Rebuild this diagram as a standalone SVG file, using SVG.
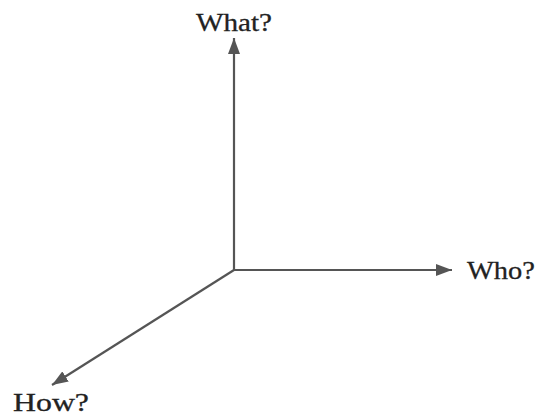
<svg xmlns="http://www.w3.org/2000/svg" width="537" height="416" viewBox="0 0 537 416">
  <style>
    .lbl { font-family: "Liberation Serif", "Times New Roman", serif; font-size: 26px; fill: #222; stroke: #222; stroke-width: 0.3; }
    .axis { stroke: #555; stroke-width: 2.2; fill: none; }
  </style>
  <defs>
    <marker id="arrow" viewBox="0 0 16 12" refX="16" refY="6" markerWidth="16" markerHeight="12" markerUnits="userSpaceOnUse" orient="auto">
      <path d="M0,0 L16,6 L0,12 Z" fill="#555"/>
    </marker>
  </defs>
  <rect width="537" height="416" fill="#fff"/>
  <g id="connectors">
    <line class="axis" x1="234" y1="271" x2="234" y2="38" marker-end="url(#arrow)"/>
    <line class="axis" x1="233" y1="270" x2="452" y2="270" marker-end="url(#arrow)"/>
    <line class="axis" x1="234" y1="270" x2="52" y2="385" marker-end="url(#arrow)"/>
  </g>
  <g id="what">
    <text class="lbl" x="196" y="31" textLength="76" lengthAdjust="spacingAndGlyphs">What?</text>
  </g>
  <g id="who">
    <text class="lbl" x="467" y="279" textLength="68" lengthAdjust="spacingAndGlyphs">Who?</text>
  </g>
  <g id="how">
    <text class="lbl" x="13" y="411" textLength="76" lengthAdjust="spacingAndGlyphs">How?</text>
  </g>
</svg>
